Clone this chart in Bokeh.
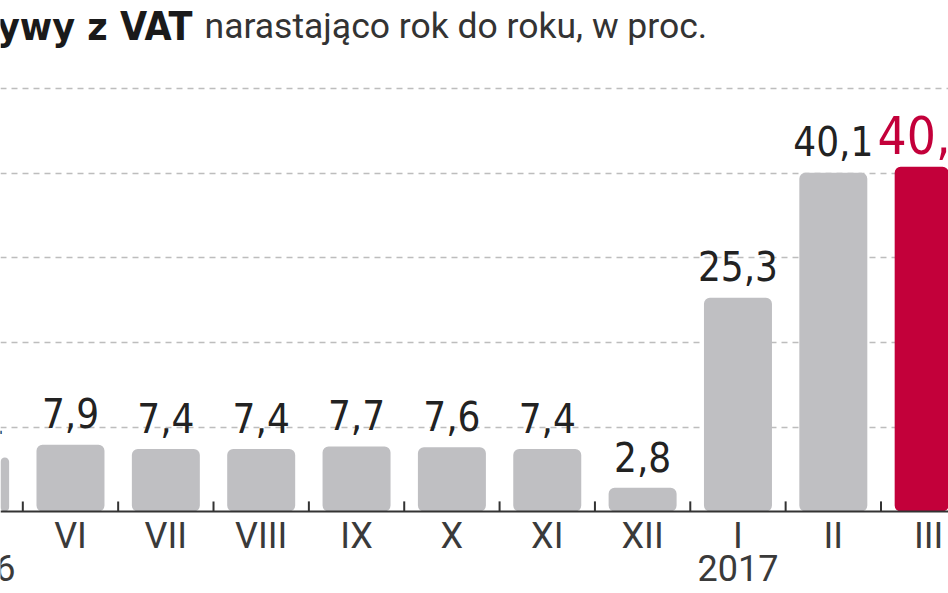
from bokeh.plotting import figure
from bokeh.models import Range1d, Grid, FixedTicker, Span, ColumnDataSource
from bokeh.core.properties import value
from bokeh.embed import file_html
from bokeh.resources import INLINE

# dane: wplywy z VAT narastajaco r/r, w proc.
miesiace = ["V", "VI", "VII", "VIII", "IX", "X", "XI", "XII", "I", "II", "III"]
wartosci = [6.4, 7.9, 7.4, 7.4, 7.7, 7.6, 7.4, 2.8, 25.3, 40.1, 40.8]
etykiety = ["6,4", "7,9", "7,4", "7,4", "7,7", "7,6", "7,4", "2,8", "25,3", "40,1", "40,8"]
lata = ["2016", "2017"]
lata_pozycje = [0, 8]
siatka = [10, 20, 30, 40, 50]

SZARY = "#bfbfc2"
CZERWONY = "#c3003a"
kolory = [SZARY] * (len(miesiace) - 1) + [CZERWONY]
kolory_etykiet = ["#222222"] * (len(miesiace) - 1) + [CZERWONY]
rozmiary = ["40px"] * (len(miesiace) - 1) + ["51px"]

WASKI = "'DejaVu Sans Condensed', 'Roboto'"

x = list(range(len(miesiace)))
zrodlo = ColumnDataSource(data=dict(
    x=x,
    wartosc=wartosci,
    etykieta=etykiety,
    miesiac=miesiace,
    kolor=kolory,
    kolor_etykiety=kolory_etykiet,
    rozmiar=rozmiary,
    y_etykiety=[w + 3.7 for w in wartosci],
))

p = figure(width=948, height=593,
           x_range=Range1d(0.266, 10.208), y_range=Range1d(-9.70, 60.47),
           x_axis_location=None, y_axis_location=None,
           output_backend="svg", toolbar_location=None, min_border=0)
p.outline_line_color = None
p.background_fill_color = "white"
for g in p.grid:
    g.visible = False

grid = Grid(dimension=1, ticker=FixedTicker(ticks=siatka),
            grid_line_color="#bdbdbd", grid_line_dash="6 5", grid_line_width=1.5)
p.add_layout(grid)

p.vbar(x="x", top="wartosc", bottom=0, width=0.713, fill_color="kolor",
       line_color=None, border_radius=6, source=zrodlo)

p.add_layout(Span(location=0, dimension="width", line_color="#333333", line_width=2))

# kreski miedzy slupkami
kreski = [i + 0.5 for i in x]
p.segment(x0=kreski, y0=[0] * len(kreski), x1=kreski, y1=[1.2] * len(kreski),
          line_color="#333333", line_width=2)

# wartosci nad slupkami
p.text(x="x", y="y_etykiety", text="etykieta", source=zrodlo,
       text_align="center", text_baseline="alphabetic",
       text_font=value(WASKI), text_font_size="rozmiar",
       text_color="kolor_etykiety")

# miesiace i lata
p.text(x="x", y=-2.93, text="miesiac", source=zrodlo,
       text_align="center", text_baseline="alphabetic",
       text_font=value("Roboto"), text_font_size="36px", text_color="#3a3a3a")
p.text(x=lata_pozycje, y=[-6.72] * len(lata), text=lata,
       text_align="center", text_baseline="alphabetic",
       text_font=value("Roboto"), text_font_size="36px", text_color="#3a3a3a")

# tytul (uciety z lewej jak w oryginale)
p.text(x=[2.28], y=[57.43], text=["Wpływy z VAT"],
       text_align="right", text_baseline="alphabetic",
       text_font=value(WASKI), text_font_style="bold",
       text_font_size="39px", text_color="#1a1a1a")
p.text(x=[2.406], y=[57.43], text=["narastająco rok do roku, w proc."],
       text_align="left", text_baseline="alphabetic",
       text_font=value("Roboto"), text_font_size="35.5px",
       text_color="#333333")

open("out.html", "w").write(file_html(p, INLINE))
